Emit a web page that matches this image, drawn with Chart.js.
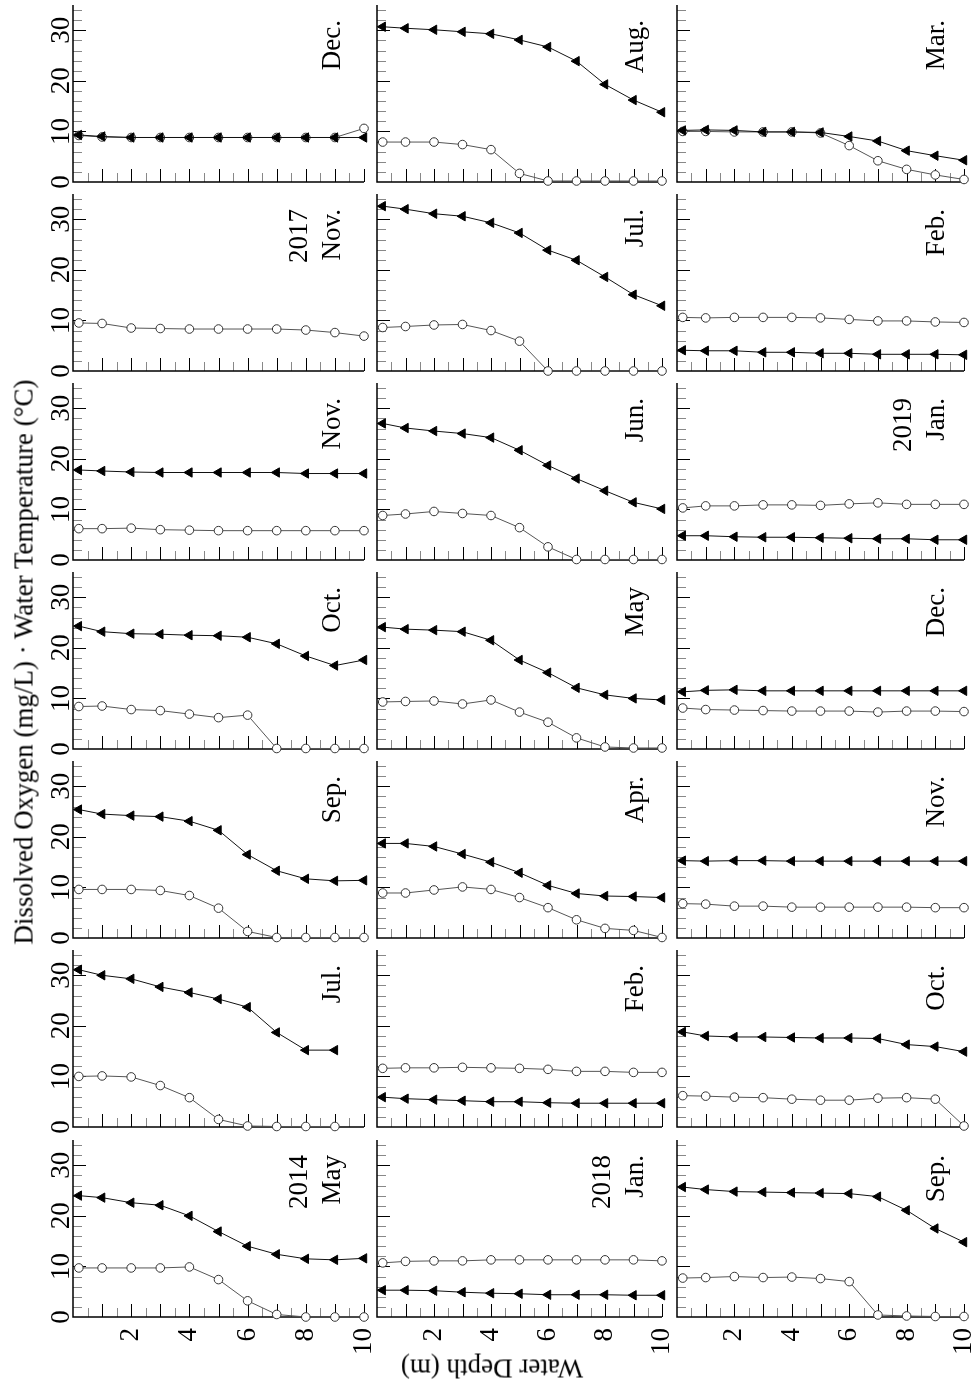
<!DOCTYPE html>
<html>
<head>
<meta charset="utf-8">
<script src="https://cdn.jsdelivr.net/npm/chart.js@4.4.0/dist/chart.umd.min.js"></script>
<style>
  html, body { margin: 0; padding: 0; background: #fff; overflow: hidden; }
  body { width: 973px; height: 1387px; position: relative; font-family: 'Liberation Serif', 'Times New Roman', serif; }
  canvas { position: absolute; }
  .lbl { position: absolute; font-size: 27px; color: #000; white-space: pre; line-height: 33px; }
</style>
</head>
<body>
<script>
// depth of each sample (m)
const depths = [0.2, 1, 2, 3, 4, 5, 6, 7, 8, 9, 10];
const xTickLabels = [2, 4, 6, 8, 10];
const yTickLabels = [0, 10, 20, 30];

// column 1
const do2014May = [9.7, 9.7, 9.7, 9.7, 9.9, 7.4, 3.2, 0.5, 0, 0, 0];
const wt2014May = [24.0, 23.6, 22.6, 22.1, 20.0, 16.9, 14.0, 12.4, 11.5, 11.3, 11.6];
const do2014Jul = [10.0, 10.1, 9.9, 8.2, 5.8, 1.5, 0.2, 0.1, 0.1, 0.1];
const wt2014Jul = [31.1, 30.0, 29.3, 27.7, 26.6, 25.3, 23.7, 18.7, 15.2, 15.2];
const do2014Sep = [9.6, 9.6, 9.6, 9.4, 8.4, 5.9, 1.3, 0.1, 0.1, 0.1, 0.1];
const wt2014Sep = [25.4, 24.5, 24.2, 24.0, 23.1, 21.3, 16.5, 13.3, 11.7, 11.3, 11.4];
const do2014Oct = [8.4, 8.5, 7.8, 7.6, 6.9, 6.2, 6.7, 0.1, 0.1, 0.1, 0.1];
const wt2014Oct = [24.3, 23.2, 22.8, 22.7, 22.5, 22.4, 22.1, 20.8, 18.4, 16.5, 17.6];
const do2014Nov = [6.2, 6.2, 6.3, 6.0, 5.9, 5.8, 5.8, 5.8, 5.8, 5.8, 5.8];
const wt2014Nov = [17.8, 17.6, 17.4, 17.3, 17.3, 17.3, 17.3, 17.3, 17.1, 17.1, 17.1];
const do2017Nov = [9.5, 9.4, 8.5, 8.4, 8.3, 8.3, 8.3, 8.3, 8.1, 7.6, 6.9];
const do2017Dec = [9.2, 8.9, 8.8, 8.8, 8.8, 8.8, 8.8, 8.8, 8.8, 8.8, 10.6];
const wt2017Dec = [9.3, 9.0, 8.8, 8.8, 8.8, 8.8, 8.8, 8.8, 8.8, 8.8, 8.8];

// column 2
const do2018Jan = [10.7, 11.0, 11.1, 11.1, 11.3, 11.3, 11.3, 11.3, 11.3, 11.3, 11.1];
const wt2018Jan = [5.3, 5.3, 5.2, 4.9, 4.7, 4.6, 4.4, 4.4, 4.4, 4.3, 4.3];
const do2018Feb = [11.6, 11.7, 11.7, 11.8, 11.7, 11.6, 11.4, 11.0, 11.0, 10.8, 10.8];
const wt2018Feb = [5.9, 5.6, 5.4, 5.2, 5.0, 5.0, 4.8, 4.7, 4.7, 4.7, 4.7];
const do2018Apr = [8.9, 8.9, 9.5, 10.1, 9.6, 8.0, 6.0, 3.6, 1.9, 1.5, 0.1];
const wt2018Apr = [18.7, 18.7, 18.1, 16.6, 15.0, 12.9, 10.4, 8.8, 8.3, 8.2, 8.0];
const do2018May = [9.3, 9.4, 9.5, 8.9, 9.7, 7.3, 5.3, 2.2, 0.4, 0.2, 0.2];
const wt2018May = [24.1, 23.7, 23.5, 23.2, 21.5, 17.6, 15.1, 12.1, 10.7, 10.0, 9.7];
const do2018Jun = [8.8, 9.1, 9.6, 9.2, 8.8, 6.4, 2.6, 0.1, 0.1, 0.1, 0.1];
const wt2018Jun = [27.0, 26.1, 25.5, 25.0, 24.2, 21.7, 18.7, 16.1, 13.7, 11.4, 10.1];
const do2018Jul = [8.6, 8.8, 9.1, 9.2, 8.0, 5.9, 0, 0, 0, 0, 0];
const wt2018Jul = [32.6, 32.0, 31.1, 30.6, 29.3, 27.3, 23.9, 21.9, 18.6, 15.1, 12.9];
const do2018Aug = [7.9, 7.9, 7.9, 7.4, 6.4, 1.7, 0.2, 0.2, 0.2, 0.2, 0.2];
const wt2018Aug = [30.7, 30.4, 30.1, 29.7, 29.3, 28.1, 26.7, 23.9, 19.3, 16.2, 13.8];

// column 3
const do2018Sep = [7.7, 7.8, 8.0, 7.8, 7.9, 7.6, 7.0, 0.4, 0.2, 0.1, 0.1];
const wt2018Sep = [25.7, 25.2, 24.8, 24.7, 24.6, 24.5, 24.4, 23.8, 21.1, 17.5, 14.8];
const do2018Oct = [6.2, 6.1, 5.9, 5.8, 5.5, 5.3, 5.3, 5.7, 5.8, 5.5, 0.2];
const wt2018Oct = [18.8, 18.0, 17.8, 17.8, 17.7, 17.6, 17.6, 17.5, 16.3, 15.9, 14.9];
const do2018Nov = [6.8, 6.7, 6.3, 6.3, 6.1, 6.1, 6.1, 6.1, 6.1, 6.0, 6.0];
const wt2018Nov = [15.3, 15.2, 15.3, 15.3, 15.2, 15.2, 15.2, 15.2, 15.2, 15.2, 15.2];
const do2018Dec = [8.1, 7.8, 7.7, 7.6, 7.5, 7.5, 7.5, 7.3, 7.5, 7.5, 7.4];
const wt2018Dec = [11.3, 11.6, 11.7, 11.5, 11.5, 11.5, 11.5, 11.5, 11.5, 11.5, 11.5];
const do2019Jan = [10.3, 10.7, 10.7, 10.9, 10.9, 10.8, 11.1, 11.3, 11.0, 11.0, 11.0];
const wt2019Jan = [4.8, 4.8, 4.6, 4.5, 4.5, 4.4, 4.3, 4.2, 4.2, 4.0, 4.0];
const do2019Feb = [10.6, 10.5, 10.6, 10.6, 10.6, 10.5, 10.2, 9.9, 9.9, 9.7, 9.6];
const wt2019Feb = [4.1, 4.0, 4.0, 3.7, 3.7, 3.5, 3.5, 3.3, 3.3, 3.3, 3.2];
const do2019Mar = [10.0, 10.0, 9.9, 9.9, 9.9, 9.7, 7.2, 4.2, 2.5, 1.4, 0.5];
const wt2019Mar = [10.2, 10.3, 10.2, 9.9, 9.9, 9.8, 9.0, 8.1, 6.2, 5.2, 4.3];

// row 0 = top of the page
const panels = [
  { col: 0, row: 6, title: '2014\nMay', oxygen: do2014May, temp: wt2014May },
  { col: 0, row: 5, title: 'Jul.', oxygen: do2014Jul, temp: wt2014Jul },
  { col: 0, row: 4, title: 'Sep.', oxygen: do2014Sep, temp: wt2014Sep },
  { col: 0, row: 3, title: 'Oct.', oxygen: do2014Oct, temp: wt2014Oct },
  { col: 0, row: 2, title: 'Nov.', oxygen: do2014Nov, temp: wt2014Nov },
  { col: 0, row: 1, title: '2017\nNov.', oxygen: do2017Nov, temp: null },
  { col: 0, row: 0, title: 'Dec.', oxygen: do2017Dec, temp: wt2017Dec },
  { col: 1, row: 6, title: '2018\nJan.', oxygen: do2018Jan, temp: wt2018Jan },
  { col: 1, row: 5, title: 'Feb.', oxygen: do2018Feb, temp: wt2018Feb },
  { col: 1, row: 4, title: 'Apr.', oxygen: do2018Apr, temp: wt2018Apr },
  { col: 1, row: 3, title: 'May', oxygen: do2018May, temp: wt2018May },
  { col: 1, row: 2, title: 'Jun.', oxygen: do2018Jun, temp: wt2018Jun },
  { col: 1, row: 1, title: 'Jul.', oxygen: do2018Jul, temp: wt2018Jul },
  { col: 1, row: 0, title: 'Aug.', oxygen: do2018Aug, temp: wt2018Aug },
  { col: 2, row: 6, title: 'Sep.', oxygen: do2018Sep, temp: wt2018Sep },
  { col: 2, row: 5, title: 'Oct.', oxygen: do2018Oct, temp: wt2018Oct },
  { col: 2, row: 4, title: 'Nov.', oxygen: do2018Nov, temp: wt2018Nov },
  { col: 2, row: 3, title: 'Dec.', oxygen: do2018Dec, temp: wt2018Dec },
  { col: 2, row: 2, title: '2019\nJan.', oxygen: do2019Jan, temp: wt2019Jan },
  { col: 2, row: 1, title: 'Feb.', oxygen: do2019Feb, temp: wt2019Feb },
  { col: 2, row: 0, title: 'Mar.', oxygen: do2019Mar, temp: wt2019Mar }
];

// page geometry of the plot areas
const colLeft = [73, 377, 677];
const colRight = [364, 662, 964];
const rowZero = [182, 371, 560, 749, 938, 1127, 1317];
const panelH = 177;
const titleX = [331, 634, 935];

Chart.defaults.font.family = "'Liberation Serif', 'Times New Roman', serif";
Chart.defaults.font.size = 27;
Chart.defaults.color = '#000';

// inward tick marks + L-shaped axes
const axisPlugin = {
  id: 'axisTicks',
  beforeDatasetsDraw(chart) {
    const { ctx, chartArea: a, scales: { x, y } } = chart;
    ctx.save();
    ctx.lineWidth = 1;
    for (let v = 0.5; v <= 10; v += 0.5) {
      const px = Math.round(x.getPixelForValue(v)) + 0.5;
      const major = v % 1 === 0;
      ctx.strokeStyle = major ? '#000' : '#888';
      ctx.beginPath();
      ctx.moveTo(px, a.bottom);
      ctx.lineTo(px, a.bottom - (major ? 13 : 9));
      ctx.stroke();
    }
    for (let v = 2; v <= 34; v += 2) {
      const py = Math.round(y.getPixelForValue(v)) + 0.5;
      const major = v % 10 === 0;
      ctx.strokeStyle = major ? '#000' : '#888';
      ctx.beginPath();
      ctx.moveTo(a.left, py);
      ctx.lineTo(a.left + (major ? 13 : 9), py);
      ctx.stroke();
    }
    ctx.strokeStyle = '#000';
    ctx.lineWidth = 1.5;
    ctx.beginPath();
    ctx.moveTo(a.left, a.top);
    ctx.lineTo(a.left, a.bottom);
    ctx.lineTo(a.right, a.bottom);
    ctx.stroke();
    ctx.restore();
  }
};

function addLabel(text, css) {
  const d = document.createElement('div');
  d.className = 'lbl';
  d.textContent = text;
  Object.assign(d.style, css);
  document.body.appendChild(d);
  return d;
}

panels.forEach(p => {
  const L = p.col === 0 ? 70 : 12;
  const T = 8, R = 9;
  const B = p.row === 6 ? 50 : 10;
  const left = colLeft[p.col];
  const w = colRight[p.col] - left;
  const top = rowZero[p.row] - panelH;

  const cv = document.createElement('canvas');
  cv.width = w + L + R;
  cv.height = panelH + T + B;
  cv.style.left = (left - L) + 'px';
  cv.style.top = (top - T) + 'px';
  document.body.appendChild(cv);

  const datasets = [];
  if (p.temp) {
    datasets.push({
      data: p.temp.map((v, i) => ({ x: depths[i], y: v })),
      borderColor: '#111',
      borderWidth: 1,
      pointStyle: 'triangle',
      pointRotation: -90,
      pointRadius: 5.4,
      pointBackgroundColor: '#000',
      pointBorderColor: '#000',
      pointBorderWidth: 1,
      clip: false
    });
  }
  datasets.push({
    data: p.oxygen.map((v, i) => ({ x: depths[i], y: v })),
    borderColor: '#555',
    borderWidth: 1,
    pointStyle: 'circle',
    pointRadius: 4.3,
    pointBackgroundColor: '#fff',
    pointBorderColor: '#333',
    pointBorderWidth: 1,
    clip: false
  });

  new Chart(cv, {
    type: 'line',
    data: { datasets },
    options: {
      responsive: false,
      animation: false,
      events: [],
      layout: { autoPadding: false, padding: { left: 0, top: T, right: R, bottom: 0 } },
      plugins: { legend: { display: false }, tooltip: { enabled: false } },
      scales: {
        x: {
          type: 'linear', min: 0, max: 10,
          grid: { display: false, drawTicks: false },
          border: { display: false },
          afterBuildTicks: s => { s.ticks = xTickLabels.map(v => ({ value: v })); },
          afterFit: s => { s.height = B; s.paddingLeft = 0; s.paddingRight = 0; },
          ticks: { display: p.row === 6, minRotation: 90, maxRotation: 90, autoSkip: false, padding: 11 }
        },
        y: {
          type: 'linear', min: 0, max: 35,
          grid: { display: false, drawTicks: false },
          border: { display: false },
          afterBuildTicks: s => { s.ticks = yTickLabels.map(v => ({ value: v })); },
          afterFit: s => { s.width = L; s.paddingTop = 0; s.paddingBottom = 0; },
          ticks: { display: p.col === 0, minRotation: 90, maxRotation: 90, crossAlign: 'center', autoSkip: false, padding: -2 }
        }
      }
    },
    plugins: [axisPlugin]
  });

  // panel title, rotated, end of text near the top of the panel
  const lines = p.title.split('\n').length;
  const h = lines * 33;
  addLabel(p.title, {
    width: '150px',
    textAlign: 'right',
    left: (titleX[p.col] + 16.5 - h) + 'px',
    top: (top + 15 + 150) + 'px',
    transformOrigin: '0 0',
    transform: 'rotate(-90deg)'
  });
});

addLabel('Dissolved Oxygen (mg/L) \u00b7 Water Temperature (\u00b0C)', {
  left: '24px', top: '662px', transform: 'translate(-50%, -50%) rotate(-90deg)'
});
addLabel('Water Depth (m)', {
  left: '492px', top: '1368px', transform: 'translate(-50%, -50%) rotate(180deg)'
});
</script>
</body>
</html>
